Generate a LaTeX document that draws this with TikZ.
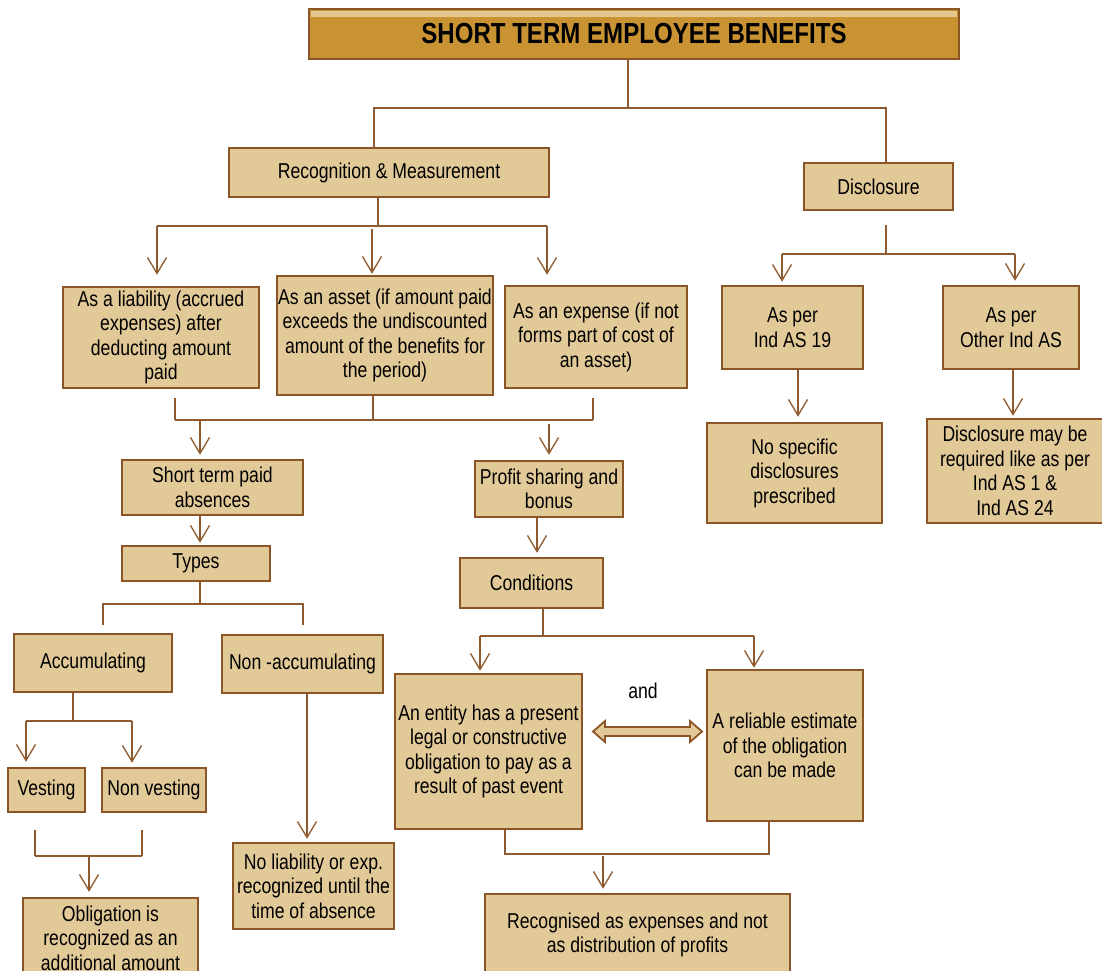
\documentclass[tikz,border=0pt]{standalone}
\usepackage{fontspec}
\usetikzlibrary{arrows.meta}
\newfontfamily\bodyf[FakeStretch=0.82]{Liberation Sans}
\newfontfamily\titlef[FakeStretch=0.83]{Liberation Sans Bold}
\definecolor{boxfill}{HTML}{E2C998}
\definecolor{brd}{HTML}{8B5526}
\definecolor{lncol}{HTML}{8E5A2E}
\definecolor{titlefill}{HTML}{C99334}
\definecolor{stripe}{HTML}{E4C890}
\tikzset{
  box/.style={draw=brd, fill=boxfill, line width=2.5pt, align=center, inner sep=0pt,
    font={\bodyf\fontsize{21.5}{24.5}\selectfont}},
  titlebox/.style={draw=brd, fill=titlefill, line width=2.5pt, inner sep=0pt,
    font={\titlef\fontsize{29}{32}\selectfont}},
  ln/.style={draw=lncol, line width=1.3pt},
  arr/.style={ln, -{Straight Barb[length=16pt,width=19pt]}},
  dbl/.style={fill=boxfill, draw=brd, line width=1.8pt, line join=miter},
  lbl/.style={font={\bodyf\fontsize{21.5}{24.5}\selectfont}, inner sep=0pt}
}
\begin{document}
\begin{tikzpicture}[x=1pt,y=-1pt]
\useasboundingbox[fill=white] (0,0) rectangle (1102,970);

% ---------- nodes ----------
\node[titlebox, minimum width=650pt, minimum height=50pt] (title) at (634,34) {SHORT TERM EMPLOYEE BENEFITS};
\fill[stripe] (311,11) rectangle (957,16.5);

\node[box, minimum width=320pt, minimum height=49pt] (rec) at (389,172.5) {Recognition \& Measurement};
\node[box, minimum width=149pt, minimum height=47pt] (disc) at (878.5,186.5) {Disclosure};

\node[box, minimum width=196pt, minimum height=101pt] (liab) at (161,337.5) {As a liability (accrued\\expenses) after\\deducting amount\\paid};
\node[box, minimum width=216pt, minimum height=119pt] (asset) at (385,335.5) {As an asset (if amount paid\\exceeds the undiscounted\\amount of the benefits for\\the period)};
\node[box, minimum width=182pt, minimum height=102pt] (expense) at (596,337) {As an expense (if not\\forms part of cost of\\an asset)};

\node[box, minimum width=181pt, minimum height=55pt] (stpa) at (212.5,487.5) {Short term paid\\absences};
\node[box, minimum width=148pt, minimum height=56pt] (profit) at (549,489) {Profit sharing and\\bonus};

\node[box, minimum width=148pt, minimum height=35pt] (types) at (196,563.5) {Types};
\node[box, minimum width=158pt, minimum height=58pt] (accum) at (93,663) {Accumulating};
\node[box, minimum width=161pt, minimum height=58pt] (nonacc) at (302.5,664) {Non -accumulating};

\node[box, minimum width=77pt, minimum height=44pt] (vest) at (46.5,790) {Vesting};
\node[box, minimum width=104pt, minimum height=44pt] (nonvest) at (154,790) {Non vesting};
\node[box, minimum width=175pt, minimum height=80pt] (oblig) at (110.5,938) {Obligation is\\recognized as an\\additional amount};
\node[box, minimum width=161pt, minimum height=86pt] (noliab) at (313.5,886) {No liability or exp.\\recognized until the\\time of absence};

\node[box, minimum width=143pt, minimum height=50pt] (cond) at (531.5,583) {Conditions};
\node[box, minimum width=187pt, minimum height=155pt] (entity) at (488.5,751.5) {An entity has a present\\legal or constructive\\obligation to pay as a\\result of past event};
\node[box, minimum width=156pt, minimum height=151pt] (reliable) at (785,745.5) {A reliable estimate\\of the obligation\\can be made};
\node[lbl] (andl) at (643,691) {and};
\node[box, minimum width=305pt, minimum height=82pt] (recog) at (637.5,935) {Recognised as expenses and not\\as distribution of profits};

\node[box, minimum width=141pt, minimum height=83pt] (as19) at (792.5,327.5) {As per\\Ind AS 19};
\node[box, minimum width=136pt, minimum height=83pt] (asother) at (1011,327.5) {As per\\Other Ind AS};
\node[box, minimum width=175pt, minimum height=100pt] (nospec) at (794.5,473) {No specific\\disclosures\\prescribed};
\node[box, minimum width=176pt, minimum height=104pt] (discmay) at (1015,471) {Disclosure may be\\required like as per\\Ind AS 1 \&\\Ind AS 24};

% ---------- connectors ----------
\coordinate (t1) at (628,108);
\coordinate (t1a) at (374,108);
\coordinate (t1b) at (886,108);
\draw[ln] (title.south -| t1) -- (t1);
\draw[ln] (rec.north -| t1a) -- (t1a) -- (t1b) -- (disc.north -| t1b);

\coordinate (r0) at (378,226);
\coordinate (r1) at (157,226);
\coordinate (r2) at (372,229);
\coordinate (r3) at (547,226);
\draw[ln] (rec.south -| r0) -- (r0);
\draw[ln] (r1) -- (r3);
\draw[arr, shorten >=11pt] (r1) -- (liab.north -| r1);
\draw[arr, shorten >=1pt] (r2) -- (asset.north -| r2);
\draw[arr, shorten >=10pt] (r3) -- (expense.north -| r3);

\coordinate (b1) at (175,420);
\coordinate (b2) at (373,420);
\coordinate (b3) at (593,420);
\coordinate (b4) at (200,420);
\coordinate (b5) at (549,424);
\draw[ln, shorten <=9pt] (liab.south -| b1) -- (b1);
\draw[ln] (asset.south -| b2) -- (b2);
\draw[ln, shorten <=9pt] (expense.south -| b3) -- (b3);
\draw[ln] (b1) -- (b3);
\draw[arr, shorten >=4pt] (b4) -- (stpa.north -| b4);
\draw[arr, shorten >=5pt] (b5) -- (profit.north -| b5);
\draw[arr, shorten >=2pt] (stpa.south -| b4) -- (types.north -| b4);

\coordinate (y0) at (200,604);
\coordinate (y1) at (103,604);
\coordinate (y2) at (303,604);
\draw[ln] (types.south -| y0) -- (y0);
\draw[ln, shorten <=8pt, shorten >=9pt] (accum.north -| y1) -- (y1) -- (y2) -- (nonacc.north -| y2);

\coordinate (a0) at (73,721);
\coordinate (a1) at (26,721);
\coordinate (a2) at (132,721);
\draw[ln] (accum.south -| a0) -- (a0);
\draw[ln] (a1) -- (a2);
\draw[arr, shorten >=5pt] (a1) -- (vest.north -| a1);
\draw[arr, shorten >=4pt] (a2) -- (nonvest.north -| a2);

\coordinate (v1) at (35,856);
\coordinate (v2) at (142,856);
\coordinate (v0) at (89,856);
\draw[ln, shorten <=17pt] (vest.south -| v1) -- (v1);
\draw[ln, shorten <=17pt] (nonvest.south -| v2) -- (v2);
\draw[ln] (v1) -- (v2);
\draw[arr, shorten >=5pt] (v0) -- (oblig.north -| v0);

\coordinate (n0) at (307,700);
\draw[arr, shorten >=3pt] (nonacc.south -| n0) -- (noliab.north -| n0);

\coordinate (p0) at (537,530);
\draw[arr, shorten >=4pt] (profit.south -| p0) -- (cond.north -| p0);

\coordinate (c0) at (543,636);
\coordinate (c1) at (480,636);
\coordinate (c2) at (754,636);
\draw[ln] (cond.south -| c0) -- (c0);
\draw[ln] (c1) -- (c2);
\draw[arr, shorten >=2pt] (c1) -- (entity.north -| c1);
\draw[arr, shorten >=1pt] (c2) -- (reliable.north -| c2);

\coordinate (e1) at (505,854);
\coordinate (e2) at (769,854);
\coordinate (e0) at (603,856);
\draw[ln] (entity.south -| e1) -- (e1) -- (e2) -- (reliable.south -| e2);
\draw[arr, shorten >=4pt] (e0) -- (recog.north -| e0);

\coordinate (d0) at (886,254);
\coordinate (d1) at (782,254);
\coordinate (d2) at (1015,254);
\coordinate (d3) at (798,380);
\coordinate (d4) at (1013,380);
\draw[ln, shorten <=14pt] (disc.south -| d0) -- (d0);
\draw[ln] (d1) -- (d2);
\draw[arr, shorten >=3pt] (d1) -- (as19.north -| d1);
\draw[arr, shorten >=4pt] (d2) -- (asother.north -| d2);
\draw[arr, shorten >=5pt] (as19.south -| d3) -- (nospec.north -| d3);
\draw[arr, shorten >=2pt] (asother.south -| d4) -- (discmay.north -| d4);

% double arrow between entity and reliable
\draw[dbl] (593,731.5) -- (605,721) -- (605,727) -- (690,727) -- (690,721) -- (702,731.5)
  -- (690,742) -- (690,736) -- (605,736) -- (605,742) -- cycle;
\end{tikzpicture}
\end{document}
